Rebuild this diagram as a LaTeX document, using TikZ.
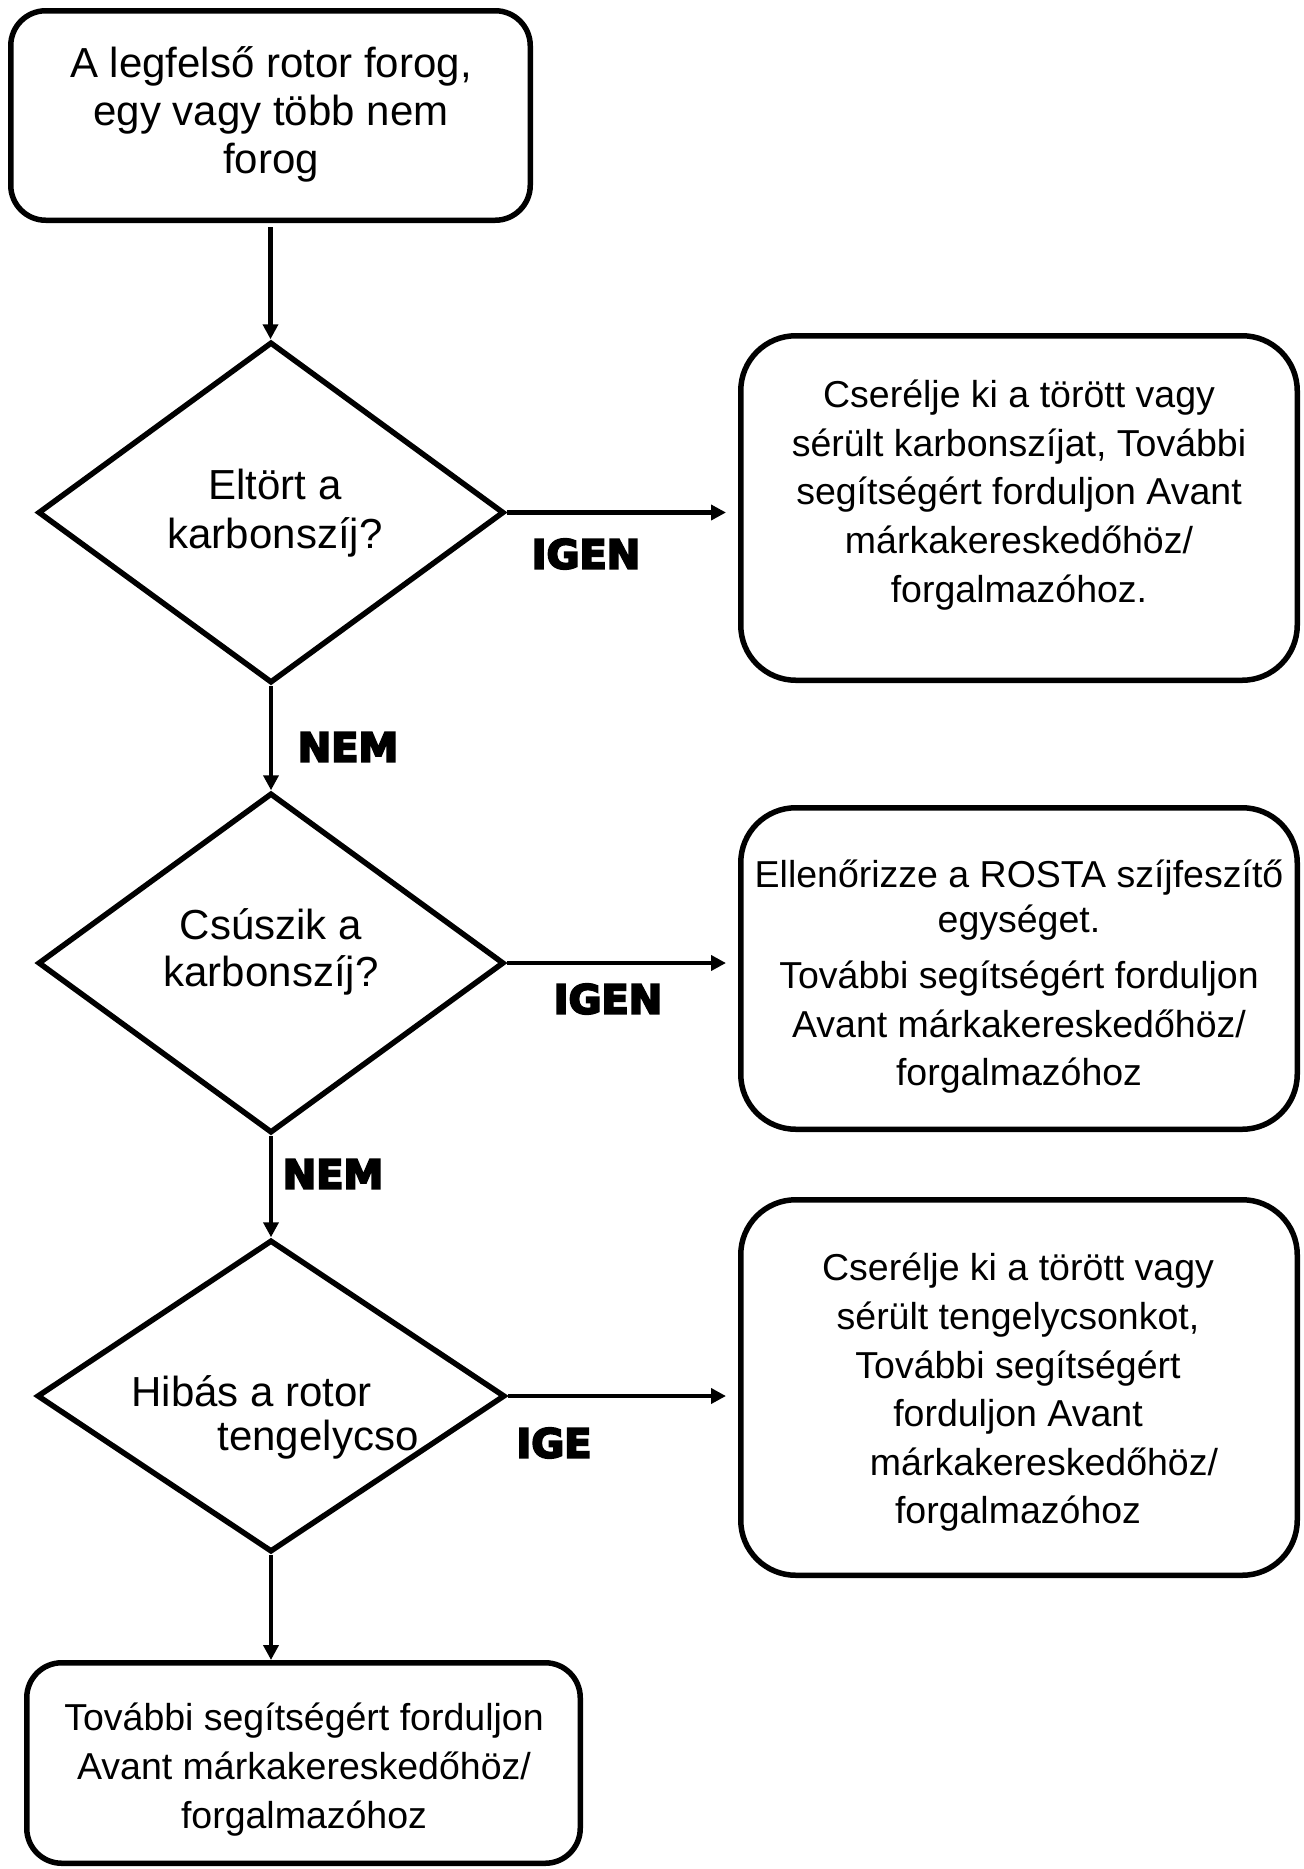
\documentclass[tikz,border=0pt]{standalone}
\usepackage{fontspec}
\setmainfont{Liberation Sans}
\newfontfamily\heavyfont[FakeBold=5]{DejaVu Sans Bold}
\usetikzlibrary{arrows.meta,shapes.geometric}
\begin{document}
\begin{tikzpicture}[x=1pt,y=-1pt,
  box/.style={draw, line width=5.5pt, rounded corners=35pt, inner sep=0pt},
  abox/.style={draw, line width=5.5pt, rounded corners=55pt, inner sep=0pt, minimum width=556.5pt},
  dia/.style={draw, diamond, line width=5.5pt, inner sep=0pt},
  txt/.style={align=center, inner sep=0pt},
  lab/.style={font=\heavyfont\fontsize{40}{40}\selectfont, inner sep=0pt},
  arr/.style={line width=4.5pt, -{Triangle[length=15pt,width=15pt]}},
]
\fill[white] (0,0) rectangle (1304,1869);
\useasboundingbox (0,0) rectangle (1304,1869);

% shapes
\node[box, minimum width=519.5pt, minimum height=209.5pt] (top) at (270.5,115.5) {};
\node[dia, minimum width=466pt, minimum height=341pt] (q1) at (271,512.5) {};
\node[dia, minimum width=466pt, minimum height=340pt] (q2) at (271,963) {};
\node[dia, minimum width=468pt, minimum height=312pt] (q3) at (271,1396) {};
\node[abox, minimum height=344.5pt] (a1) at (1019,508) {};
\node[abox, minimum height=321.5pt] (a2) at (1019,968.5) {};
\node[abox, minimum height=375.5pt] (a3) at (1019,1387.5) {};
\node[box, minimum width=553.5pt, minimum height=200.5pt] (b) at (303.5,1763) {};

% texts
\node[txt, font=\fontsize{42}{48}\selectfont] (t0) at (271,114) {A legfelső rotor forog,\\egy vagy több nem\\forog};
\node[txt, font=\fontsize{42}{49}\selectfont] (q1t) at (275,513) {Eltört a\\karbonszíj?};
\node[txt, font=\fontsize{42}{47}\selectfont] (q2t) at (271,952) {Csúszik a\\karbonszíj?};
\node[txt, align=left, font=\fontsize{42}{44}\selectfont] (q3t) at (275,1417) {Hibás a rotor\\\hspace*{86pt}tengelycso};
\node[txt, font=\fontsize{37.5}{48.6}\selectfont] (a1t) at (1019,495) {Cserélje ki a törött vagy\\sérült karbonszíjat, További\\segítségért forduljon Avant\\márkakereskedőhöz/\\forgalmazóhoz.};
\node[txt, font=\fontsize{37.5}{45}\selectfont] (a2t) at (1019,977) {Ellenőrizze a ROSTA szíjfeszítő\\egységet.\\[11pt]További segítségért forduljon\\[4pt]Avant márkakereskedőhöz/\\[3pt]forgalmazóhoz};
\node[txt, font=\fontsize{37.5}{48.6}\selectfont] (a3t) at (1018,1392.5) {Cserélje ki a törött vagy\\sérült tengelycsonkot,\\További segítségért\\forduljon Avant\\\hspace*{52pt}márkakereskedőhöz/\\forgalmazóhoz};
\node[txt, font=\fontsize{37.5}{49}\selectfont] (bt) at (304,1770) {További segítségért forduljon\\Avant márkakereskedőhöz/\\forgalmazóhoz};

% labels
\node[lab] (y1) at (586,554) {IGEN};
\node[lab] (n1) at (348,747) {NEM};
\node[lab] (y2) at (608,999) {IGEN};
\node[lab] (n2) at (333,1174) {NEM};
\node[lab] (y3) at (554,1443) {IGE};

% connectors
\draw[arr, shorten <=4pt] (top.south) -- (top.south |- q1.north);
\draw[arr] (q1.south) -- (q2.north);
\draw[arr] (q2.south) -- (q3.north);
\draw[arr] (q3.south) -- (q3.south |- b.north);
\draw[arr, shorten >=12pt] (q1.east) -- (q1.east -| a1.west);
\draw[arr, shorten >=12pt] (q2.east) -- (q2.east -| a2.west);
\draw[arr, shorten >=12pt] (q3.east) -- (q3.east -| a3.west);
\end{tikzpicture}
\end{document}
